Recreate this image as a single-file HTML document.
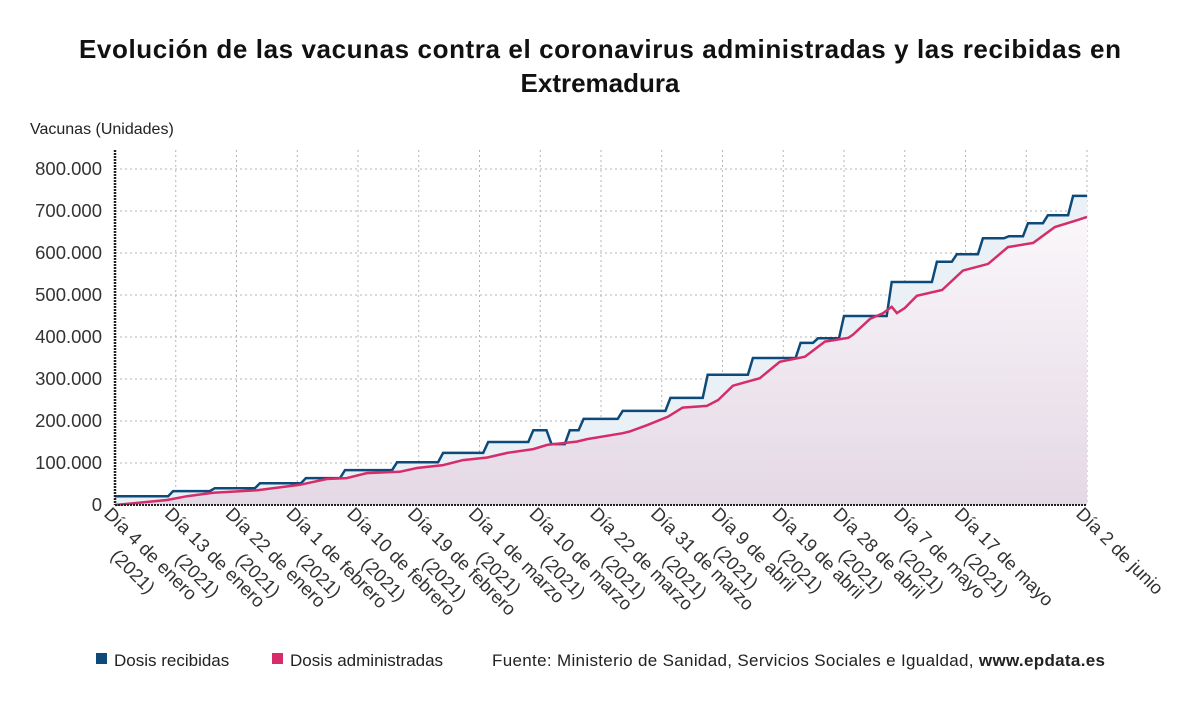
<!DOCTYPE html>
<html><head><meta charset="utf-8"><style>
body{margin:0;background:#fff;font-family:"Liberation Sans",sans-serif}
svg{display:block}
</style></head><body>
<svg id="chart" width="1200" height="705">
<text x="600" y="58" text-anchor="middle" font-size="26" font-weight="bold" fill="#111" textLength="1042" lengthAdjust="spacing">Evolución de las vacunas contra el coronavirus administradas y las recibidas en</text>
<text x="600" y="92" text-anchor="middle" font-size="26" font-weight="bold" fill="#111">Extremadura</text>
<text x="30" y="134" font-size="16" fill="#222">Vacunas (Unidades)</text>
<g id="grid"></g><g id="areas"></g><g id="lines"></g><g id="axes"></g><g id="xlabels"></g>
<g>
<rect x="96" y="653" width="11" height="11" fill="#0d4a7a"/>
<text x="114" y="666" font-size="17" fill="#222">Dosis recibidas</text>
<rect x="272" y="653" width="11" height="11" fill="#d62d6a"/>
<text x="290" y="666" font-size="17" fill="#222">Dosis administradas</text>
<text x="492" y="666" font-size="17" fill="#222" textLength="613" lengthAdjust="spacing">Fuente: Ministerio de Sanidad, Servicios Sociales e Igualdad, <tspan font-weight="bold">www.epdata.es</tspan></text>
</g>
</svg>
<script>
const xLabels=["Día 4 de enero","Día 13 de enero","Día 22 de enero","Día 1 de febrero","Día 10 de febrero","Día 19 de febrero","Día 1 de marzo","Día 10 de marzo","Día 22 de marzo","Día 31 de marzo","Día 9 de abril","Día 19 de abril","Día 28 de abril","Día 7 de mayo","Día 17 de mayo","","Día 2 de junio"];
const xLabelYear=["(2021)","(2021)","(2021)","(2021)","(2021)","(2021)","(2021)","(2021)","(2021)","(2021)","(2021)","(2021)","(2021)","(2021)","(2021)","",""];
const yTicks=[0,100000,200000,300000,400000,500000,600000,700000,800000];
const yTickLabels=["0","100.000","200.000","300.000","400.000","500.000","600.000","700.000","800.000"];
// received: step change points (category index, new value)
const recvIdx=[0,6.7,11.5,16.7,22,26.5,32.5,37.8,43,48.2,50.3,52.4,54,58.5,64,68.3,73.5,79,81,84,89.5,94.7,97,100,103,105.2,107.5,110.4];
const recvVal=[21000,33000,40000,52000,64000,83000,102000,124000,150000,178000,145000,178000,205000,224000,255000,310000,350000,386000,397000,450000,531000,579000,597000,635000,640000,671000,690000,736000];
// administered: vertices (category index, value)
const admIdx=[0,6,8.3,11.3,16.4,21.3,24.4,26.7,29,32.8,34.8,37.8,40.1,42.9,45.2,48.2,49.8,53.2,54.4,58.5,59.3,61.3,63.7,65.4,68.2,69.5,71.2,74.3,76.6,79.5,81.8,84.5,85,87,88.5,89.5,90.1,91,92.4,95.3,97.7,100.6,102.9,105.8,108.3,111,112];
const admVal=[0,12000,21000,29000,35000,48000,62000,64000,76000,79000,88000,95000,107000,113000,124000,133000,143000,151000,157000,171000,175000,190000,210000,232000,236000,250000,284000,302000,341000,353000,389000,398000,405000,443000,457000,472000,457000,469000,498000,512000,558000,574000,614000,624000,662000,679000,686000];
const NS="http://www.w3.org/2000/svg";
const X0=115,X1=1087,Y0=505,Y1=169,NMAX=112,VMAX=800000;
const xs=i=>X0+(X1-X0)*i/NMAX, ys=v=>Y0-(Y0-Y1)*v/VMAX;
function mk(tag,attrs,parent){const e=document.createElementNS(NS,tag);for(const k in attrs)e.setAttribute(k,attrs[k]);parent.appendChild(e);return e;}
const grid=document.getElementById('grid'),areas=document.getElementById('areas'),lines=document.getElementById('lines'),axes=document.getElementById('axes'),xl=document.getElementById('xlabels');
const defs=mk('defs',{},document.getElementById('chart'));
const g=mk('linearGradient',{id:'pg',x1:0,y1:0,x2:0,y2:1},defs);
mk('stop',{offset:'0','stop-color':'#faf7fa'},g);mk('stop',{offset:'1','stop-color':'#e4d8e5'},g);
yTicks.forEach((v,k)=>{
 if(v>0){const l=mk('line',{x1:X0,x2:X1,y1:ys(v),y2:ys(v),stroke:'#b5b5b5','stroke-dasharray':'2,3'},grid);
 
 }
 const t=mk('text',{x:102,y:ys(v)+6,'text-anchor':'end','font-size':18.5,fill:'#333'},axes);t.textContent=yTickLabels[k];
 
 
});
const nT=xLabels.length;
for(let k=0;k<nT;k++){
 const x=xs(NMAX*k/(nT-1));
 if(k>0){const l=mk('line',{x1:x,x2:x,y1:150,y2:Y0,stroke:'#b5b5b5','stroke-dasharray':'2,3'},grid);
 
 }
 if(!xLabels[k])continue;
 const gg=mk('g',{transform:`translate(${x-12},${Y0+10}) rotate(45)`},xl);
 
 
 const t1=mk('text',{x:0,y:0,'font-size':18.5,fill:'#333'},gg);t1.textContent=xLabels[k];
 if(xLabelYear[k]){const w=t1.getComputedTextLength();
 const t2=mk('text',{x:w/2,y:25,'font-size':18.5,fill:'#333','text-anchor':'middle'},gg);t2.textContent=xLabelYear[k];}
}
let rp=[];
for(let k=0;k<recvIdx.length;k++){
 const xi=xs(recvIdx[k]);
 if(k===0){rp.push([xi,ys(recvVal[0])]);continue;}
 rp.push([xi-5,ys(recvVal[k-1])]);rp.push([xi,ys(recvVal[k])]);
}
rp.push([xs(NMAX),ys(recvVal[recvVal.length-1])]);
const rd='M'+rp.map(p=>p[0].toFixed(1)+','+p[1].toFixed(1)).join(' L');
const ap=admIdx.map((v,k)=>[xs(v),ys(admVal[k])]);
const ad='M'+ap.map(p=>p[0].toFixed(1)+','+p[1].toFixed(1)).join(' L');
const ra=mk('path',{d:rd+` L${X1},${Y0} L${X0},${Y0} Z`,fill:'#e9f0f6'},areas);


const aa=mk('path',{d:ad+` L${X1},${Y0} L${X0},${Y0} Z`,fill:'url(#pg)'},areas);


const rl=mk('path',{d:rd,fill:'none',stroke:'#0d4a7a','stroke-width':2.5},lines);


const al=mk('path',{d:ad,fill:'none',stroke:'#d62d6a','stroke-width':2.5},lines);


const ya=mk('line',{x1:X0,x2:X0,y1:150,y2:Y0,stroke:'#222','stroke-width':2.5,'stroke-dasharray':'2,1'},axes);


const xa=mk('line',{x1:X0,x2:X1,y1:Y0,y2:Y0,stroke:'#222','stroke-width':2,'stroke-dasharray':'2,1'},axes);


</script>
</body></html>
